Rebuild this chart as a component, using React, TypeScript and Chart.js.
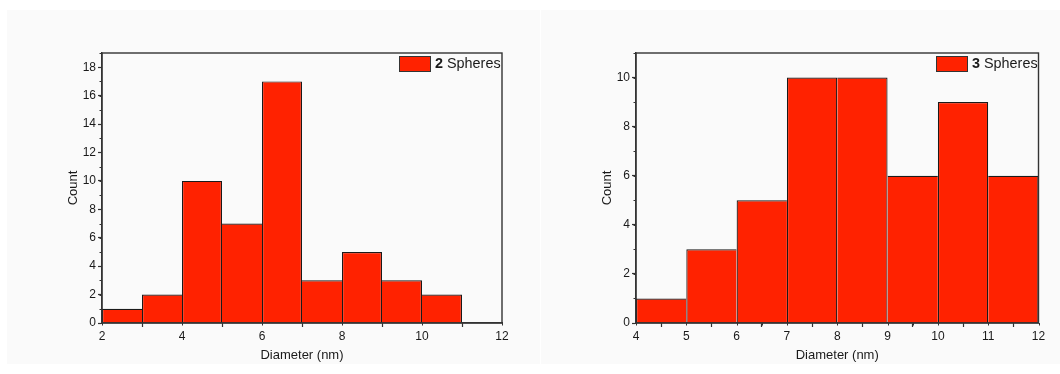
import React, { useEffect, useRef } from "react";
import { Chart, registerables } from "chart.js";

Chart.register(...registerables);

// ---- data ----
const binStarts2 = [2, 3, 4, 5, 6, 7, 8, 9, 10];
const counts2 = [1, 2, 10, 7, 17, 3, 5, 3, 2];
const binStarts3 = [4, 5, 6, 7, 8, 9, 10, 11];
const counts3 = [1, 3, 5, 10, 10, 6, 9, 6];
const binWidth = 1;
const legendNum2 = "2";
const legendNum3 = "3";
const legendWord = " Spheres";
const xTitle = "Diameter (nm)";
const yTitle = "Count";

const FONT = "'Liberation Sans', Arial, Helvetica, sans-serif";
const AXIS = "#333333";
const TEXT = "#1a1a1a";
const BAR = "#ff2200";
const BAR_EDGE = "#1a1a1a";

const framePlugin = {
  id: "frame",
  afterDatasetsDraw(chart: any) {
    const { left, right, top, bottom } = chart.chartArea;
    const ctx = chart.ctx;
    ctx.save();
    ctx.strokeStyle = AXIS;
    ctx.lineWidth = 1.4;
    ctx.strokeRect(left, top, right - left, bottom - top);
    ctx.restore();
  },
};

const minorPlugin = {
  id: "minorTicks",
  afterDraw(chart: any, _args: any, opts: any) {
    const ctx = chart.ctx;
    const { left, bottom } = chart.chartArea;
    const xs = chart.scales.x;
    const ys = chart.scales.y;
    ctx.save();
    ctx.strokeStyle = AXIS;
    ctx.lineWidth = 1;
    for (let v = xs.min; v <= xs.max + 1e-9; v += opts.xMinor) {
      const px = Math.round(xs.getPixelForValue(v)) + 0.5;
      ctx.beginPath();
      ctx.moveTo(px, bottom);
      ctx.lineTo(px, bottom + 2.5);
      ctx.stroke();
    }
    for (let v = ys.min; v <= ys.max + 1e-9; v += opts.yMinor) {
      const py = Math.round(ys.getPixelForValue(v)) + 0.5;
      ctx.beginPath();
      ctx.moveTo(left, py);
      ctx.lineTo(left - 2.5, py);
      ctx.stroke();
    }
    ctx.restore();
  },
};

const legendPlugin = {
  id: "customLegend",
  afterDraw(chart: any, _args: any, opts: any) {
    const ctx = chart.ctx;
    const { right, top } = chart.chartArea;
    const bx = Math.round(right - 103);
    const by = Math.round(top + 2.5);
    ctx.save();
    ctx.fillStyle = BAR;
    ctx.fillRect(bx, by, 31.5, 15.5);
    ctx.strokeStyle = "#333";
    ctx.lineWidth = 1;
    ctx.strokeRect(bx + 0.5, by + 0.5, 31, 15);
    ctx.fillStyle = TEXT;
    ctx.textBaseline = "middle";
    ctx.textAlign = "left";
    ctx.font = `bold 14.4px ${FONT}`;
    const tx = bx + 36;
    const ty = by + 8.5;
    ctx.fillText(opts.num, tx, ty);
    const w = ctx.measureText(opts.num).width;
    ctx.font = `14.4px ${FONT}`;
    ctx.fillText(opts.word, tx + w, ty);
    ctx.restore();
  },
};

type HistProps = {
  binStarts: number[];
  counts: number[];
  xMin: number;
  xMax: number;
  xStep: number;
  xMinor: number;
  yMax: number;
  yStep: number;
  yMinor: number;
  legendNum: string;
  width: number;
  height: number;
  padRight: number;
};

function Histogram(p: HistProps) {
  const ref = useRef<HTMLCanvasElement | null>(null);
  useEffect(() => {
    if (!ref.current) return;
    const n = p.counts.length;
    const points = p.binStarts.map((s, i) => ({ x: s + binWidth / 2, y: p.counts[i] }));
    const chart = new Chart(ref.current, {
      type: "bar",
      data: {
        datasets: [
          {
            data: points as any,
            backgroundColor: BAR,
            borderColor: BAR_EDGE,
            borderWidth: (ctx: any) => {
              const i = ctx.dataIndex;
              const c = p.counts;
              return {
                top: 1.2,
                bottom: 0,
                left: i === 0 || c[i - 1] < c[i] ? 1.2 : 0,
                right: i === n - 1 || c[i + 1] <= c[i] ? 1.2 : 0,
              };
            },
            borderSkipped: false,
            barPercentage: 1,
            categoryPercentage: 1,
            inflateAmount: 0,
          } as any,
        ],
      },
      options: {
        animation: false,
        responsive: false,
        devicePixelRatio: 1,
        layout: { padding: { left: 59, right: p.padRight, top: 43, bottom: 1 } },
        plugins: {
          legend: { display: false },
          tooltip: { enabled: false },
          minorTicks: { xMinor: p.xMinor, yMinor: p.yMinor },
          customLegend: { num: p.legendNum, word: legendWord },
        } as any,
        scales: {
          x: {
            type: "linear",
            min: p.xMin,
            max: p.xMax,
            offset: false,
            afterFit: (s: any) => {
              s.height = 40;
            },
            ticks: {
              stepSize: p.xStep,
              includeBounds: false,
              padding: 2,
              color: TEXT,
              font: { family: FONT, size: 12 },
              maxRotation: 0,
              autoSkip: false,
            },
            grid: {
              display: true,
              drawOnChartArea: false,
              drawTicks: true,
              tickLength: 4,
              tickColor: AXIS,
              tickWidth: 1.2,
            },
            border: { display: true, color: AXIS, width: 1.4 },
            title: {
              display: true,
              text: xTitle,
              color: TEXT,
              font: { family: FONT, size: 13 },
              padding: { top: 0, bottom: 0 },
            },
          },
          y: {
            type: "linear",
            min: 0,
            max: p.yMax,
            afterFit: (s: any) => {
              s.width = 36;
            },
            afterBuildTicks: (s: any) => {
              s.ticks = s.ticks.filter((t: any) => Math.abs(t.value / p.yStep - Math.round(t.value / p.yStep)) < 1e-9);
            },
            ticks: {
              stepSize: p.yStep,
              includeBounds: false,
              padding: 2,
              color: TEXT,
              font: { family: FONT, size: 12 },
              autoSkip: false,
            },
            grid: {
              display: true,
              drawOnChartArea: false,
              drawTicks: true,
              tickLength: 4,
              tickColor: AXIS,
              tickWidth: 1.2,
            },
            border: { display: true, color: AXIS, width: 1.4 },
            title: {
              display: true,
              text: yTitle,
              color: TEXT,
              font: { family: FONT, size: 13 },
              padding: { top: 0, bottom: 0 },
            },
          },
        },
      } as any,
      plugins: [framePlugin, minorPlugin, legendPlugin],
    });
    return () => chart.destroy();
  }, []);
  return <canvas ref={ref} width={p.width} height={p.height} style={{ display: "block" }} />;
}

export default function App() {
  return (
    <div style={{ position: "fixed", left: 0, top: 0, width: 1060, height: 374, background: "#ffffff", overflow: "hidden" }}>
      <div style={{ position: "absolute", left: 7, top: 10, width: 533, height: 354, background: "#fafafa" }}>
        <Histogram
          binStarts={binStarts2}
          counts={counts2}
          xMin={2}
          xMax={12}
          xStep={2}
          xMinor={1}
          yMax={19}
          yStep={2}
          yMinor={1}
          legendNum={legendNum2}
          width={533}
          height={354}
          padRight={38}
        />
      </div>
      <div style={{ position: "absolute", left: 541, top: 10, width: 519, height: 354, background: "#fafafa" }}>
        <Histogram
          binStarts={binStarts3}
          counts={counts3}
          xMin={4}
          xMax={12}
          xStep={1}
          xMinor={0.5}
          yMax={11}
          yStep={2}
          yMinor={1}
          legendNum={legendNum3}
          width={519}
          height={354}
          padRight={21.5}
        />
      </div>
    </div>
  );
}
